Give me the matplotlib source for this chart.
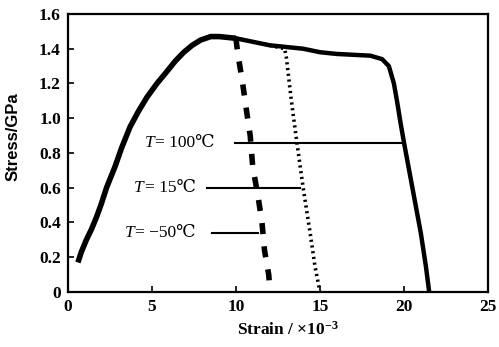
import matplotlib
matplotlib.use("Agg")
import matplotlib.pyplot as plt

# Shared loading branch (strain x1e-3, stress GPa)
load_strain = [0.6, 0.8, 1.1, 1.4, 1.7, 2.0, 2.3, 2.8, 3.2, 3.7, 4.2, 4.7, 5.3, 5.9, 6.4, 6.9, 7.4, 7.9, 8.5, 9.0, 10.0]
load_stress = [0.17, 0.23, 0.30, 0.36, 0.43, 0.51, 0.60, 0.72, 0.83, 0.95, 1.04, 1.12, 1.20, 1.27, 1.33, 1.38, 1.42, 1.45, 1.47, 1.47, 1.46]

# T = -50 C unloading branch
m50_strain = [10.0, 10.1, 10.4, 10.65, 10.85, 11.0, 11.3, 11.55, 11.7, 11.95, 12.0]
m50_stress = [1.46, 1.38, 1.20, 1.03, 0.90, 0.72, 0.56, 0.40, 0.24, 0.10, 0.04]

# T = 15 C branch
p15_strain = [10.0, 11.0, 12.0, 12.9, 13.0, 13.3, 13.6, 14.0, 14.4, 14.7, 15.0]
p15_stress = [1.46, 1.44, 1.42, 1.40, 1.35, 1.10, 0.88, 0.60, 0.35, 0.15, 0.0]

# T = 100 C branch
p100_strain = [10.0, 11.0, 12.0, 13.0, 14.0, 15.0, 16.0, 17.0, 18.0, 18.7, 19.1, 19.4,
               19.6, 19.8, 20.0, 20.5, 21.0, 21.3, 21.5]
p100_stress = [1.46, 1.44, 1.42, 1.41, 1.40, 1.38, 1.37, 1.365, 1.36, 1.34, 1.30, 1.20,
               1.09, 0.97, 0.86, 0.60, 0.34, 0.15, 0.0]

# Annotation labels: text after "T", stress level, text right edge, leader-line start, leader-line end
labels = ["= 100\u2103", "= 15\u2103", "= \u221250\u2103"]
label_stress = [0.86, 0.60, 0.34]
label_right = [8.75, 7.6, 7.6]
line_start = [9.95, 8.3, 8.6]
line_end = [20.0, 13.8, 11.3]

xticks = [0, 5, 10, 15, 20, 25]
yticks = [0, 0.2, 0.4, 0.6, 0.8, 1.0, 1.2, 1.4, 1.6]
yticklabels = ["0", "0.2", "0.4", "0.6", "0.8", "1.0", "1.2", "1.4", "1.6"]

serif = ["Liberation Serif", "DejaVu Serif"]
plt.rcParams["mathtext.fontset"] = "custom"
plt.rcParams["mathtext.it"] = "Liberation Serif:italic"
plt.rcParams["mathtext.rm"] = "Liberation Serif"
plt.rcParams["mathtext.bf"] = "Liberation Serif:bold"

fig = plt.figure(figsize=(4.99, 3.47), dpi=100)
ax = fig.add_axes([0.136, 0.1585, 0.842, 0.8012])

ax.plot(load_strain, load_stress, color="black", lw=4.0, solid_capstyle="butt")
ax.plot(p100_strain, p100_stress, color="black", lw=3.2)
ax.plot(m50_strain, m50_stress, color="black", lw=4.0, linestyle=(0, (2.0, 2.2)))
ax.plot(p15_strain, p15_stress, color="black", lw=2.6, linestyle=(0, (0.6, 1.0)))

for t, s, r, a, b in zip(labels, label_stress, label_right, line_start, line_end):
    ax.plot([a, b], [s, s], color="black", lw=1.5)
    txt = ax.text(r, s, t, ha="right", va="center", fontsize=12.5, family=serif)
    ax.annotate("T", xy=(0, 0.5), xycoords=txt, xytext=(-0.5, 0), textcoords="offset points",
                ha="right", va="center", fontsize=12.5, family=serif, style="italic")

ax.set_xlim(0, 25)
ax.set_ylim(0, 1.6)
ax.set_xticks(xticks)
ax.set_yticks(yticks)
ax.set_yticklabels(yticklabels)
ax.tick_params(direction="in", length=4, width=1.2, labelsize=12.5, pad=5)
for lab in ax.get_xticklabels() + ax.get_yticklabels():
    lab.set_family(serif)
    lab.set_fontweight("bold")
for sp in ax.spines.values():
    sp.set_linewidth(1.6)

ax.set_ylabel("Stress/GPa", family=["Liberation Sans", "DejaVu Sans"], fontweight="bold", fontsize=12)
ax.yaxis.set_label_coords(-0.112, 0.557)
ax.set_xlabel("Strain / \u00d710$^{\\mathbf{-3}}$", family=serif, fontweight="bold", fontsize=12.5)
ax.xaxis.set_label_coords(0.524, -0.105)

fig.savefig("out.png", dpi=100)
